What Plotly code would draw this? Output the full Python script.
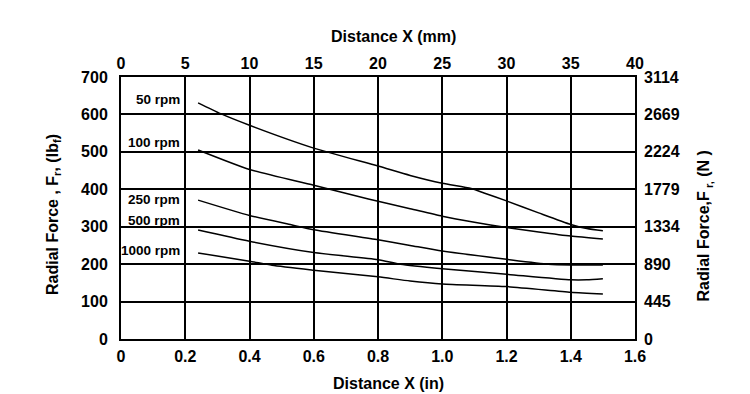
import plotly.graph_objects as go

# ---- data (distance in inches, radial force in lbf) ----
x_50 = [0.24, 0.31, 0.40, 0.60, 0.80, 0.90, 1.00, 1.09, 1.13, 1.20, 1.30, 1.40, 1.45, 1.50]
y_50 = [631, 602, 571, 510, 462, 437, 416, 402, 390, 369, 337, 306, 295, 289]

x_100 = [0.24, 0.40, 0.60, 0.77, 0.90, 1.00, 1.10, 1.20, 1.30, 1.40, 1.50]
y_100 = [505, 453, 411, 374, 348, 328, 312, 298, 286, 275, 267]

x_250 = [0.24, 0.40, 0.53, 0.60, 0.80, 0.90, 1.00, 1.20, 1.33, 1.40, 1.50]
y_250 = [371, 330, 305, 292, 265, 250, 235, 213, 200, 198, 198]

x_500 = [0.24, 0.40, 0.60, 0.80, 0.87, 1.00, 1.20, 1.40, 1.45, 1.50]
y_500 = [291, 261, 231, 212, 200, 188, 173, 158, 158, 161]

x_1000 = [0.24, 0.40, 0.47, 0.60, 0.80, 0.90, 1.00, 1.20, 1.40, 1.50]
y_1000 = [230, 208, 197, 184, 166, 155, 147, 140, 125, 120]

series_labels = ["50 rpm", "100 rpm", "250 rpm", "500 rpm", "1000 rpm"]
label_y = [640, 526, 373, 317, 237]

x_in_ticks = [0, 0.2, 0.4, 0.6, 0.8, 1.0, 1.2, 1.4, 1.6]
x_in_text = ["0", "0.2", "0.4", "0.6", "0.8", "1.0", "1.2", "1.4", "1.6"]
x_mm_ticks = [0, 5, 10, 15, 20, 25, 30, 35, 40]
y_lbf_ticks = [0, 100, 200, 300, 400, 500, 600, 700]
y_n_ticks = [0, 445, 890, 1334, 1779, 2224, 2669, 3114]

FONT = "Liberation Sans, Arial, Helvetica, sans-serif"

fig = go.Figure()
series = [(x_50, y_50), (x_100, y_100), (x_250, y_250), (x_500, y_500), (x_1000, y_1000)]
for (xs, ys), name in zip(series, series_labels):
    fig.add_trace(go.Scatter(
        x=xs, y=ys, mode="lines", name=name, showlegend=False,
        line=dict(color="black", width=1.5, shape="spline", smoothing=0.6),
    ))

# invisible trace to activate the secondary (mm / N) axes
fig.add_trace(go.Scatter(
    x=[x_mm_ticks[0], x_mm_ticks[-1]], y=[y_n_ticks[0], y_n_ticks[-1]],
    xaxis="x2", yaxis="y2", mode="markers", marker=dict(opacity=0),
    showlegend=False, hoverinfo="skip",
))

tickfont = dict(family=FONT, size=16, color="black", weight="bold")
titlefont = dict(family=FONT, size=16, color="black", weight="bold")
lblfont = dict(family=FONT, size=13.5, color="black", weight="bold")

for name, yv in zip(series_labels, label_y):
    fig.add_annotation(x=0.19, y=yv, xref="x", yref="y", text=name,
                       showarrow=False, xanchor="right", yanchor="middle",
                       font=lblfont)

annots = [
    dict(text="Distance X (mm)", x=0.531, y=1.1527, textangle=0),
    dict(text="Distance X (in)", x=0.521, y=-0.168, textangle=0),
    dict(text="Radial Force , F<sub>r</sub>, (lb<sub>f</sub>)", x=-0.1323, y=0.477, textangle=-90),
    dict(text="Radial Force,F<sub> r,</sub> (N )", x=1.135, y=0.431, textangle=-90),
]
for a in annots:
    fig.add_annotation(xref="paper", yref="paper", showarrow=False,
                       xanchor="center", yanchor="middle", font=titlefont, **a)

fig.update_layout(
    width=750, height=394,
    margin=dict(l=113, r=123, t=69, b=63),
    plot_bgcolor="white", paper_bgcolor="white",
    xaxis=dict(range=[0, 1.6], tickvals=x_in_ticks, ticktext=x_in_text,
               showgrid=True, gridcolor="black", gridwidth=1.5,
               showline=True, linecolor="black", linewidth=2, mirror=True,
               ticks="", ticklen=0, zeroline=False, tickfont=tickfont,
               ticklabelstandoff=2),
    yaxis=dict(range=[0, 700], tickvals=y_lbf_ticks,
               showgrid=True, gridcolor="black", gridwidth=1.5,
               showline=True, linecolor="black", linewidth=2, mirror=True,
               ticks="", ticklen=0, zeroline=False, tickfont=tickfont,
               ticklabelstandoff=8),
    xaxis2=dict(range=[0, 40], tickvals=x_mm_ticks, overlaying="x", side="top",
                showgrid=False, zeroline=False, showline=False, ticks="",
                ticklen=0, tickfont=tickfont, ticklabelstandoff=4),
    yaxis2=dict(range=[0, 3114], tickvals=y_n_ticks, overlaying="y", side="right",
                showgrid=False, zeroline=False, showline=False, ticks="",
                ticklen=0, tickfont=tickfont, ticklabelstandoff=8),
)

fig.write_html("out.html")
